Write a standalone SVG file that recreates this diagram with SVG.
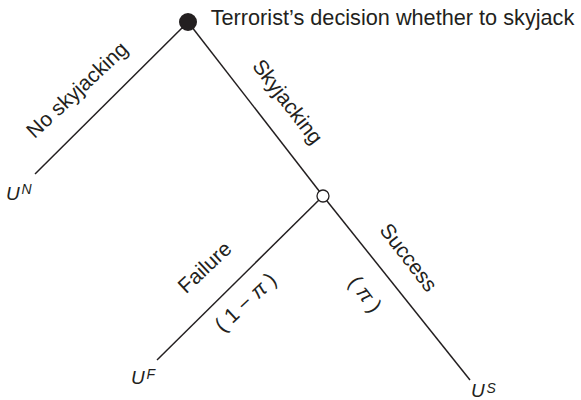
<svg xmlns="http://www.w3.org/2000/svg" width="581" height="400" viewBox="0 0 581 400">
<style>
.edge{stroke:#231f20;stroke-width:1.5;fill:none}
.lbl{font-family:"Liberation Sans",Arial,sans-serif;font-size:21px;fill:#231f20}
.u{font-family:"Liberation Sans",Arial,sans-serif;font-style:italic;fill:#231f20}
.big{font-size:19px}
.sup{font-size:14px}
</style>
<rect width="581" height="400" fill="#ffffff"/>
<g id="connectors">
<line class="edge" x1="188" y1="22" x2="35" y2="174"/>
<line class="edge" x1="188" y1="22" x2="323" y2="196"/>
<line class="edge" x1="323" y1="196" x2="157" y2="360"/>
<line class="edge" x1="323" y1="196" x2="470" y2="380"/>
<text class="lbl" text-anchor="middle" transform="translate(82,95) rotate(-43)">No skyjacking</text>
<text class="lbl" text-anchor="middle" transform="translate(282,106) rotate(52.5)">Skyjacking</text>
<text class="lbl" text-anchor="middle" transform="translate(209.5,272.5) rotate(-43)">Failure</text>
<text class="lbl" text-anchor="middle" transform="translate(250.4,307.4) rotate(-43)">( 1 − <tspan font-style="italic">π</tspan> )</text>
<text class="lbl" text-anchor="middle" transform="translate(403,261.8) rotate(52.5)">Success</text>
<text class="lbl" text-anchor="middle" transform="translate(359.7,298.4) rotate(52.5)">( <tspan font-style="italic">π</tspan> )</text>
</g>
<g id="decision">
<circle cx="188" cy="22" r="9" fill="#231f20"/>
<text class="lbl" x="210.7" y="25" style="font-size:21.7px">Terrorist’s decision whether to skyjack</text>
</g>
<g id="chance">
<circle cx="323" cy="196" r="6" fill="#ffffff" stroke="#231f20" stroke-width="1.3"/>
</g>
<g id="outcome-N">
<text class="u big" x="6" y="200">U</text><text class="u sup" x="21.5" y="194">N</text>
</g>
<g id="outcome-F">
<text class="u big" x="131" y="384">U</text><text class="u sup" x="146.5" y="379">F</text>
</g>
<g id="outcome-S">
<text class="u big" x="471" y="397">U</text><text class="u sup" x="486.5" y="393">S</text>
</g>
</svg>
